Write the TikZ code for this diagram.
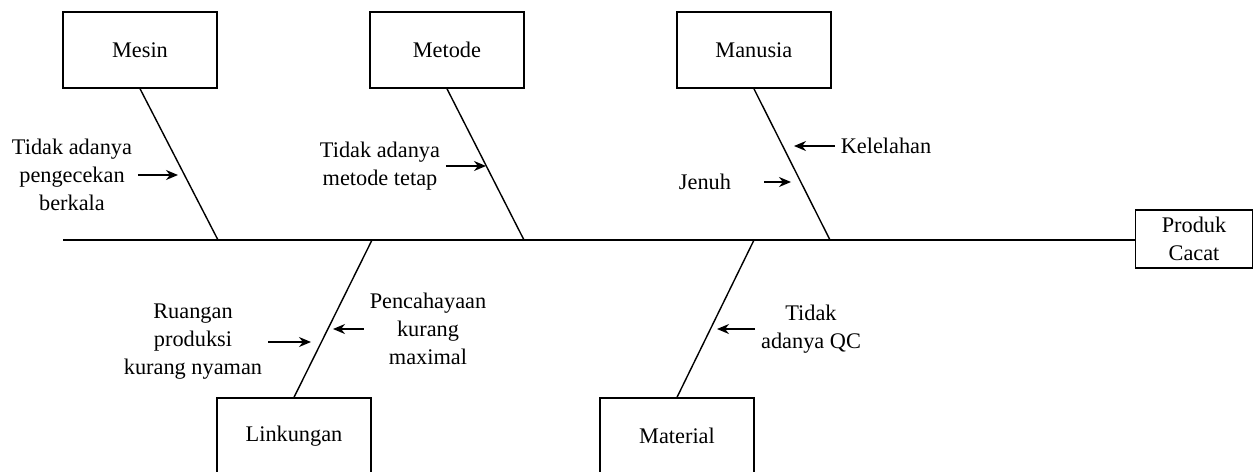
\documentclass[tikz,border=0pt]{standalone}
\usepackage{fontspec}
\setmainfont{Liberation Serif}
\usetikzlibrary{arrows.meta}

\begin{document}
\begin{tikzpicture}[x=0.02cm,y=-0.02cm,thick,node distance=6.14cm,
  >={Stealth[length=0.24cm,width=0.2cm]},
  cat box/.style={rectangle,draw,minimum width=3.08cm,minimum height=1.52cm,font=\fontsize{12.7}{15.9}\selectfont},
  cause text/.style={align=center,inner sep=3pt,font=\fontsize{12.7}{15.9}\selectfont}]

  \clip (0,0) rectangle (1257,471);

  \node[cat box] (1) at (140,50) {Mesin};
  \node[cat box] (2) [right of=1] {Metode};
  \node[cat box] (3) [right of=2] {Manusia};
  \node[cat box] (4) at (294,436) {Linkungan};
  \node[cat box] (5) at (677,436) {Material};
  \node[cat box,minimum width=2.34cm,minimum height=1.16cm,align=center] (6) at (1194,239) {Produk\\Cacat};

  \coordinate (s0) at (63,240);
  \coordinate (s1) at (218,240);
  \coordinate (s2) at (524,240);
  \coordinate (s3) at (830,240);
  \coordinate (s4) at (372,240);
  \coordinate (s5) at (754,240);

  \draw (s0) -- (s0 -| 6.west);
  \draw (1.south) -- (s1);
  \draw (2.south) -- (s2);
  \draw (3.south) -- (s3);
  \draw (4.north) -- (s4);
  \draw (5.north) -- (s5);

  \node[cause text] (c1) at (72,175) {Tidak adanya\\pengecekan\\berkala};
  \node[cause text] (c2) at (380,166) {Tidak adanya\\metode tetap};
  \node[cause text] (c3) at (886,146) {Kelelahan};
  \node[cause text] (c4) at (705,182) {Jenuh};
  \node[cause text] (c5) at (193,342) {Ruangan\\produksi\\kurang nyaman};
  \node[cause text] (c6) at (428,329) {Pencahayaan\\kurang\\maximal};
  \node[cause text] (c7) at (811,329) {Tidak\\adanya QC};

  \coordinate (a1) at (178,175);
  \coordinate (a2) at (486,166);
  \coordinate (a3) at (794,146);
  \coordinate (a4) at (791,182);
  \coordinate (a5) at (311,342);
  \coordinate (a6) at (333,329);
  \coordinate (a7) at (717,329);

  \draw[->] (c1.east) -- (c1.east -| a1);
  \draw[->] (c2.east) -- (c2.east -| a2);
  \draw[->] (c3.west) -- (c3.west -| a3);
  \draw[->,shorten <=0.54cm] (c4.east) -- (c4.east -| a4);
  \draw[->] (c5.east) -- (c5.east -| a5);
  \draw[->] (c6.west) -- (c6.west -| a6);
  \draw[->] (c7.west) -- (c7.west -| a7);
\end{tikzpicture}
\end{document}
